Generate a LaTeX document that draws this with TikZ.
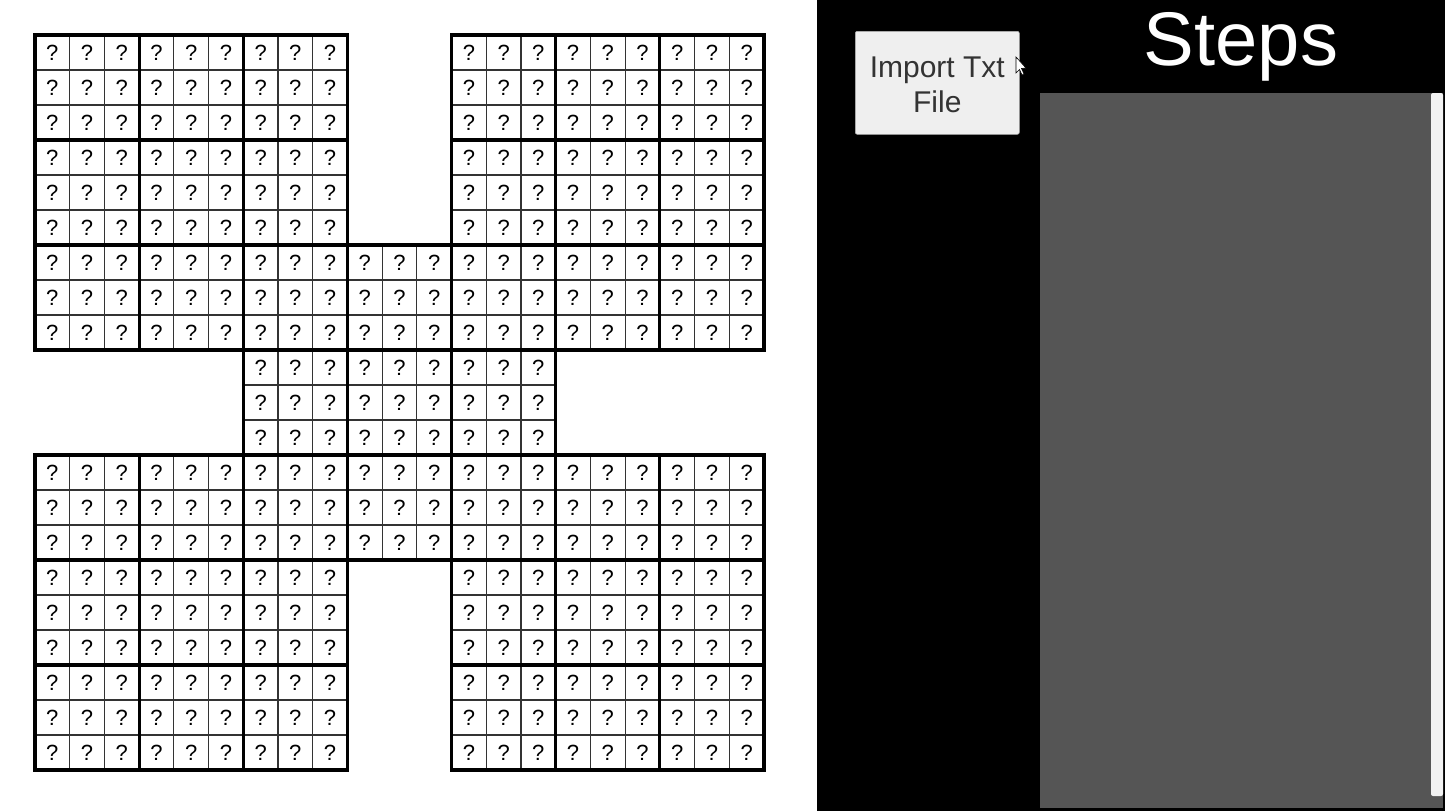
\documentclass[tikz,border=0pt]{standalone}
\usepackage{fontspec}
\setmainfont{Liberation Sans}
\usepackage{xcolor}
\definecolor{panelgray}{HTML}{555555}
\definecolor{btngray}{HTML}{EFEFEF}
\definecolor{btntext}{HTML}{333333}
\definecolor{barwhite}{HTML}{F2F2F2}
\tikzset{
  cell/.style={draw=black!80,line width=0.55pt,minimum width=17.357pt,minimum height=17.5pt,inner sep=0pt,font=\fontsize{11}{12}\selectfont},
  blockline/.style={draw=black,line width=1.6pt},
  button/.style={fill=btngray,draw=black!30,line width=0.3pt,rounded corners=1pt}
}
\begin{document}
\begin{tikzpicture}[x=0.5pt,y=-0.5pt]
            \useasboundingbox (0,0) rectangle (1445,811);
            \fill[white] (0,0) rectangle (817,811); % fondo tablero
            % tablero samurai
            \foreach \br/\bc in {0/0,0/1,0/2,0/4,0/5,0/6,1/0,1/1,1/2,1/4,1/5,1/6,2/0,2/1,2/2,2/3,2/4,2/5,2/6,3/2,3/3,3/4,4/0,4/1,4/2,4/3,4/4,4/5,4/6,5/0,5/1,5/2,5/4,5/5,5/6,6/0,6/1,6/2,6/4,6/5,6/6} {
              \foreach \i in {0,1,2} \foreach \j in {0,1,2} {
                \pgfmathtruncatemacro\r{3*\br+\i}
                \pgfmathtruncatemacro\c{3*\bc+\j}
                \node[cell] (c-\r-\c) at ({35+(\c+0.5)*34.714},{35+(\r+0.5)*35}) {?};
              }
              \draw[blockline] ({35+3*\bc*34.714},{35+3*\br*35}) rectangle ({35+(3*\bc+3)*34.714},{35+(3*\br+3)*35});
            }
            % panel derecho
            \fill[black] (817,0) rectangle (1445,811);
            \node[button,minimum width=82pt,minimum height=51.5pt,anchor=north west] (import) at (855,31) {};
            \node[text=btntext,align=center,font=\fontsize{15}{17.5}\selectfont] (importtxt) at ([yshift=-1pt]import.center) {Import Txt\\File};
            \node[text=white,font=\fontsize{38}{38}\selectfont] (steps) at (1241,47) {Steps};
            \fill[panelgray] (1040,93) rectangle (1443,808);
            \fill[barwhite,rounded corners=1pt] (1431,93) rectangle (1443,796);
            \draw[fill=white,draw=black,line width=0.3pt] (1016,57) -- (1016,73) -- (1019.5,69.5) -- (1022,75) -- (1024,74) -- (1021.5,68.5) -- (1026,68) -- cycle; % cursor
\end{tikzpicture}
\end{document}
